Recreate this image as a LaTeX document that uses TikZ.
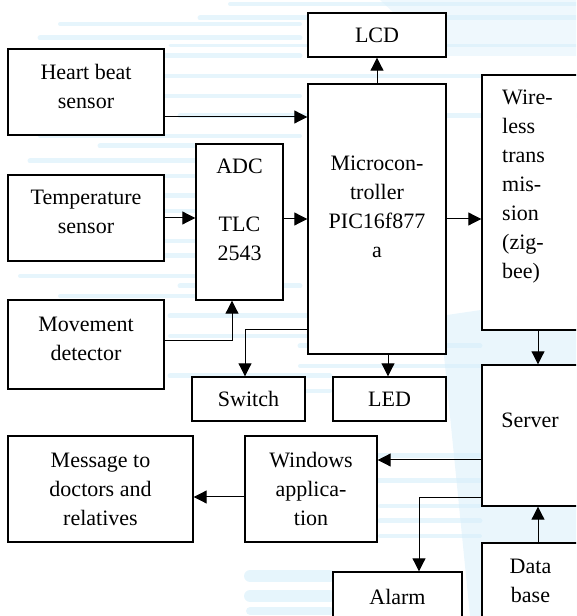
\documentclass[tikz,border=0pt]{standalone}
\usepackage{fontspec}
\setmainfont{Liberation Serif}
\usetikzlibrary{arrows.meta}
\definecolor{haze}{RGB}{214,238,250}
\begin{document}
\begin{tikzpicture}[x=1pt,y=1pt,
  box/.style={draw, line width=1.4pt, fill=white, align=center, inner sep=0pt,
    font=\fontsize{22}{29}\selectfont},
  twoline/.style={text depth=12pt},
  txt/.style={inner sep=0pt, font=\fontsize{22}{29}\selectfont},
  arr/.style={line width=1pt, -{Triangle[length=13pt,width=13pt]}},
  streak/.style={haze, opacity=0.6, line cap=round}]
\useasboundingbox (0,0) rectangle (576,616);
\clip (0,0) rectangle (576,616);

% faint striped backdrop
\foreach \xa/\ya/\xb/\w in {
  230/612/576/4, 200/598/576/5, 60/592/300/4, 40/578/300/5, 170/570/576/3,
  20/560/300/5, 150/540/576/4, 20/520/300/4, 180/500/576/5, 40/480/300/4,
  100/470/200/5, 30/455/200/5, 80/440/200/4, 20/420/200/5, 110/405/200/4,
  30/375/200/4, 80/360/200/5, 20/340/200/4, 180/330/300/5, 60/320/200/4,
  170/300/320/5, 170/280/320/4, 300/270/480/5, 300/250/480/4, 170/240/330/5,
  230/225/330/4, 300/160/480/5, 300/135/480/5, 380/110/480/4, 380/95/480/5,
  380/80/480/4, 250/40/330/12, 250/20/330/12, 250/5/330/8}
  \draw[streak, line width=\w pt] (\xa,\ya) -- (\xb,\ya);
\fill[haze, opacity=0.5] (440,300) -- (576,320) -- (576,0) -- (470,0) -- cycle;
\fill[haze, opacity=0.4] (380,616) -- (576,616) -- (576,560) -- (440,560) -- cycle;

% blocks
\node[box, twoline, minimum width=156pt, minimum height=86pt] (heart) at (86,524) {Heart beat\\sensor};
\node[box, twoline, minimum width=156pt, minimum height=86pt] (temp) at (86,398) {Temperature\\sensor};
\node[box, twoline, minimum width=156pt, minimum height=89pt] (move) at (86,271.5) {Movement\\detector};
\node[box, minimum width=87pt, minimum height=156pt] (adc) at (239.5,394) {};
\node[txt, align=center] (adctext) at (239.5,406) {ADC\\[29pt]TLC\\2543};
\node[box, minimum width=138pt, minimum height=44pt] (lcd) at (377,581) {LCD};
\node[box, minimum width=138pt, minimum height=270pt] (micro) at (377,397) {};
\node[txt, align=center] (microtext) at (377,409.5) {Microcon-\\troller\\PIC16f877\\a};
\node[box, minimum width=97pt, minimum height=255pt] (wireless) at (530.5,413.5) {};
\node[txt, align=left, anchor=west] (wirelesstext) at (502,429.5)
  {Wire-\\less\\trans\\mis-\\sion\\(zig-\\bee)};
\node[box, minimum width=113pt, minimum height=44pt] (switch) at (248.5,217) {Switch};
\node[box, minimum width=113pt, minimum height=44pt] (led) at (389.5,217) {LED};
\node[box, minimum width=97pt, minimum height=141pt] (server) at (530.5,180.5) {};
\node[txt] (servertext) at (530,196) {Server};
\node[box, minimum width=132pt, minimum height=106pt] (win) at (311,127) {Windows\\applica-\\tion};
\node[box, minimum width=185pt, minimum height=106pt] (msg) at (100.5,127) {Message to\\doctors and\\relatives};
\node[box, minimum width=129pt, minimum height=50pt] (alarm) at (397.5,19) {Alarm};
\node[box, minimum width=97pt, minimum height=76pt] (db) at (530.5,35) {Data\\base};

% connections
\draw[arr] ([yshift=-25pt]heart.east) coordinate (h) -- (h -| micro.west);
\draw[arr] (temp.east) -- (temp.east -| adc.west);
\draw[arr] (adc.east |- micro.west) -- (micro.west);
\draw[arr] (micro.east) -- (micro.east -| wireless.west);
\draw[arr] (micro.north) -- (lcd.south);
\draw[arr] ([yshift=3.5pt]move.east) -| ([xshift=-7.5pt]adc.south);
\draw[arr] ([yshift=25pt]micro.south west) -| ([xshift=-3.5pt]switch.north);
\draw[arr] ([xshift=11pt]micro.south) coordinate (m) -- (m |- led.north);
\draw[arr] ([xshift=7.5pt]wireless.south) coordinate (w) -- (w |- server.north);
\draw[arr] ([yshift=-24.5pt]server.west) coordinate (s) -- (s -| win.east);
\draw[arr] ([yshift=-8pt]win.west) coordinate (v) -- (v -| msg.east);
\draw[arr] ([yshift=9pt]server.south west) -| ([xshift=21.5pt]alarm.north);
\draw[arr] ([xshift=7.5pt]db.north) coordinate (d) -- (d |- server.south);
\end{tikzpicture}
\end{document}
